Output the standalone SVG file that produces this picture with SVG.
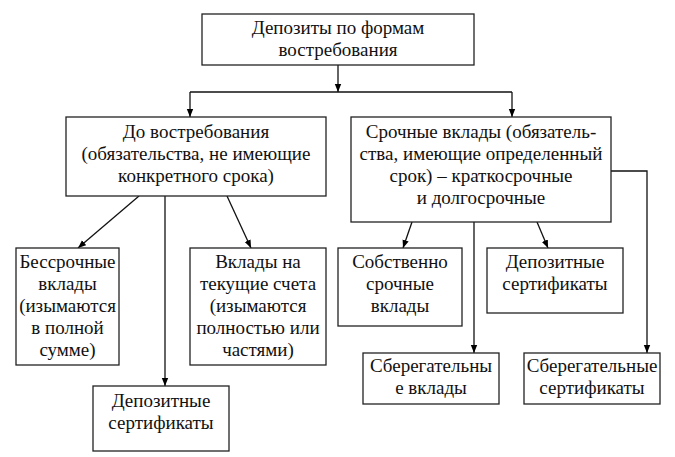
<svg xmlns="http://www.w3.org/2000/svg" width="675" height="457" viewBox="0 0 675 457">
<defs>
<marker id="ah" viewBox="0 0 10 10" refX="10" refY="5" markerWidth="8" markerHeight="8" markerUnits="userSpaceOnUse" orient="auto">
<path d="M0,1 L10,5 L0,9 Z" fill="#000"/>
</marker>
<style>
.box{fill:#fff;stroke:#222;stroke-width:1.3}
.c{stroke:#111;stroke-width:1.3;fill:none}
.t{text-anchor:middle;fill:#111}
</style>
</defs>
<rect x="0" y="0" width="675" height="457" fill="#fff"/>
<g id="connectors" class="c">
<line x1="338" y1="65" x2="338" y2="92" marker-end="url(#ah)"/>
<line x1="190" y1="92" x2="512" y2="92"/>
<line x1="190" y1="92" x2="190" y2="117" marker-end="url(#ah)"/>
<line x1="512" y1="92" x2="512" y2="117" marker-end="url(#ah)"/>
<line x1="139" y1="196" x2="78" y2="248" marker-end="url(#ah)"/>
<line x1="165" y1="196" x2="165" y2="386" marker-end="url(#ah)"/>
<line x1="227" y1="196" x2="251" y2="248" marker-end="url(#ah)"/>
<line x1="412" y1="222" x2="403" y2="248" marker-end="url(#ah)"/>
<line x1="474" y1="222" x2="474" y2="353" marker-end="url(#ah)"/>
<line x1="537" y1="222" x2="548" y2="248" marker-end="url(#ah)"/>
<polyline points="611,171 647,171 647,353" marker-end="url(#ah)"/>
</g>
<g id="root">
<rect class="box" x="202" y="14" width="272" height="51"/>
<text class="t" x="338" y="34" style="font-family:'Liberation Serif',serif;font-size:19px">Депозиты по формам</text>
<text class="t" x="338" y="56" style="font-family:'Liberation Serif',serif;font-size:19px">востребования</text>
</g>
<g id="demand">
<rect class="box" x="66" y="117" width="260" height="79"/>
<text class="t" x="196" y="138" style="font-family:'Liberation Serif',serif;font-size:19px">До востребования</text>
<text class="t" x="196" y="160" style="font-family:'Liberation Serif',serif;font-size:19px">(обязательства, не имеющие</text>
<text class="t" x="196" y="182" style="font-family:'Liberation Serif',serif;font-size:19px">конкретного срока)</text>
</g>
<g id="term">
<rect class="box" x="351" y="117" width="260" height="105"/>
<text class="t" x="481" y="138" style="font-family:'Liberation Serif',serif;font-size:19px">Срочные вклады (обязатель-</text>
<text class="t" x="481" y="160" style="font-family:'Liberation Serif',serif;font-size:19px">ства, имеющие определенный</text>
<text class="t" x="481" y="182" style="font-family:'Liberation Serif',serif;font-size:19px">срок) – краткосрочные</text>
<text class="t" x="481" y="204" style="font-family:'Liberation Serif',serif;font-size:19px">и долгосрочные</text>
</g>
<g id="perpetual">
<rect class="box" x="16" y="248" width="103" height="117"/>
<text class="t" x="67.5" y="268" style="font-family:'Liberation Serif',serif;font-size:19px">Бессрочные</text>
<text class="t" x="67.5" y="290" style="font-family:'Liberation Serif',serif;font-size:19px">вклады</text>
<text class="t" x="67.5" y="312" style="font-family:'Liberation Serif',serif;font-size:19px">(изымаются</text>
<text class="t" x="67.5" y="334" style="font-family:'Liberation Serif',serif;font-size:19px">в полной</text>
<text class="t" x="67.5" y="356" style="font-family:'Liberation Serif',serif;font-size:19px">сумме)</text>
</g>
<g id="current">
<rect class="box" x="190" y="248" width="136" height="117"/>
<text class="t" x="258" y="268" style="font-family:'Liberation Serif',serif;font-size:19px">Вклады на</text>
<text class="t" x="258" y="290" style="font-family:'Liberation Serif',serif;font-size:19px">текущие счета</text>
<text class="t" x="258" y="312" style="font-family:'Liberation Serif',serif;font-size:19px">(изымаются</text>
<text class="t" x="258" y="334" style="font-family:'Liberation Serif',serif;font-size:19px">полностью или</text>
<text class="t" x="258" y="356" style="font-family:'Liberation Serif',serif;font-size:19px">частями)</text>
</g>
<g id="dep-cert-left">
<rect class="box" x="93" y="386" width="136" height="65"/>
<text class="t" x="161" y="407" style="font-family:'Liberation Serif',serif;font-size:19px">Депозитные</text>
<text class="t" x="161" y="429" style="font-family:'Liberation Serif',serif;font-size:19px">сертификаты</text>
</g>
<g id="term-proper">
<rect class="box" x="338" y="248" width="124" height="78"/>
<text class="t" x="400" y="268" style="font-family:'Liberation Serif',serif;font-size:19px">Собственно</text>
<text class="t" x="400" y="290" style="font-family:'Liberation Serif',serif;font-size:19px">срочные</text>
<text class="t" x="400" y="312" style="font-family:'Liberation Serif',serif;font-size:19px">вклады</text>
</g>
<g id="dep-cert-right">
<rect class="box" x="487" y="248" width="136" height="65"/>
<text class="t" x="555" y="268" style="font-family:'Liberation Serif',serif;font-size:19px">Депозитные</text>
<text class="t" x="555" y="290" style="font-family:'Liberation Serif',serif;font-size:19px">сертификаты</text>
</g>
<g id="savings">
<rect class="box" x="363" y="353" width="136" height="51"/>
<text class="t" x="431" y="372" style="font-family:'Liberation Serif',serif;font-size:19px">Сберегательны</text>
<text class="t" x="431" y="394" style="font-family:'Liberation Serif',serif;font-size:19px">е вклады</text>
</g>
<g id="savings-cert">
<rect class="box" x="524" y="353" width="136" height="51"/>
<text class="t" x="592" y="372" style="font-family:'Liberation Serif',serif;font-size:19px">Сберегательные</text>
<text class="t" x="592" y="394" style="font-family:'Liberation Serif',serif;font-size:19px">сертификаты</text>
</g>
</svg>
